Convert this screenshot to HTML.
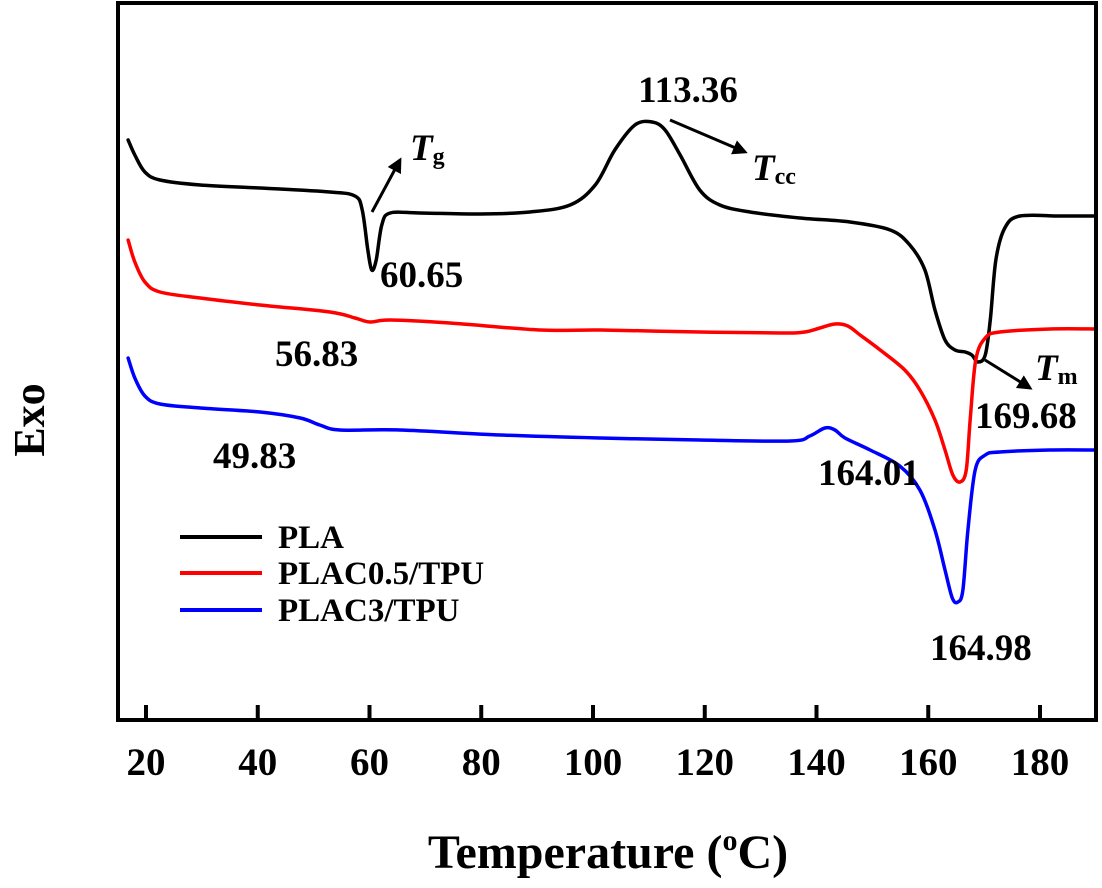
<!DOCTYPE html>
<html><head><meta charset="utf-8"><style>
body{margin:0;background:#fff}
svg{display:block;font-family:"Liberation Serif",serif;font-weight:bold}
</style></head><body>
<svg id="c" width="1102" height="888" xmlns="http://www.w3.org/2000/svg">
<g id="plot"></g>
</svg>
<script>
const xTicks=[20,40,60,80,100,120,140,160,180];
const plaT=[16.8,18.0,19.8,22.5,29.7,40.4,52.9,57.4,58.7,59.7,60.4,61.2,62.2,63.7,69.0,79.8,88.7,95.9,100.4,103.9,107.5,110.6,112.9,115.6,119.1,122.7,128.1,137.0,146.0,153.2,156.7,159.4,161.2,163.0,164.8,166.6,167.8,168.9,170.2,171.1,172.1,173.7,176.4,183.6,190];
const plaV=[580,565,548,540,535,532,528,524,510,470,450,460,495,507,507,506,508,515,535,570,595,598,590,565,530,515,508,502,498,490,475,450,410,380,370,368,365,358,365,400,460,492,504,504,504];
const c05T=[16.8,18.0,19.8,22.5,29.7,40.4,52.9,57.4,60.1,63.7,74.4,90.5,101.3,119.1,133.5,137.9,140.6,143.3,145.6,147.8,151.4,155.8,158.5,161.2,163.0,164.4,165.7,166.8,167.5,168.5,170.2,172.8,181.8,190];
const c05V=[480,458,438,428,422,415,408,402,398,400,397,390,390,388,387,388,392,396,394,385,370,350,330,300,270,245,238,250,300,360,382,388,391,391];
const c3T=[16.8,18.0,19.8,22.5,29.7,40.4,47.6,51.1,54.7,65.5,83.4,101.3,119.1,135.3,138.8,141.5,143.3,145.1,149.6,154.9,158.5,161.2,163.0,164.3,165.3,166.2,167.1,168.4,170.2,172.8,181.8,190];
const c3V=[362,342,324,316,312,308,302,295,290,290,285,282,280,279,284,292,290,282,270,254,230,190,150,122,118,130,190,250,265,268,270,270];
const X=t=>146+(t-20)*5.5875, Y=v=>720-v;
const g=document.getElementById('plot');
const NS='http://www.w3.org/2000/svg';
function el(tag,attrs,txt){const e=document.createElementNS(NS,tag);for(const k in attrs)e.setAttribute(k,attrs[k]);if(txt!==undefined)e.textContent=txt;g.appendChild(e);return e;}
function smooth(T,V){
  const p=T.map((t,i)=>[X(t),Y(V[i])]);
  let d='M'+p[0][0]+','+p[0][1];
  for(let i=0;i<p.length-1;i++){
    const p0=p[Math.max(0,i-1)],p1=p[i],p2=p[i+1],p3=p[Math.min(p.length-1,i+2)];
    const k=1/6;
    d+=' C'+(p1[0]+(p2[0]-p0[0])*k)+','+(p1[1]+(p2[1]-p0[1])*k)+' '+(p2[0]-(p3[0]-p1[0])*k)+','+(p2[1]-(p3[1]-p1[1])*k)+' '+p2[0]+','+p2[1];
  }
  return d;
}
function series(T,V,col,name){
  const e=el('path',{d:smooth(T,V),fill:'none',stroke:col,'stroke-width':3.5,'stroke-linejoin':'round','stroke-linecap':'round'});
  
  
}
series(plaT,plaV,'#000','pla-curve');
series(c05T,c05V,'#f00','plac05-tpu-curve');
series(c3T,c3V,'#00f','plac3-tpu-curve');
const frame=el('path',{d:'M118,3 L118,720 L1096,720 L1096,3 Z',fill:'none',stroke:'#000','stroke-width':4});


xTicks.forEach(t=>{
  const tk=el('line',{x1:X(t),x2:X(t),y1:720,y2:705,stroke:'#000','stroke-width':4});
  
  
  const lb=el('text',{x:X(t),y:775,'text-anchor':'middle','font-size':39},String(t));
  
  
});
</script>
<div style="position:absolute;left:0;top:0">
<svg width="1102" height="888" style="font-family:'Liberation Serif',serif;font-weight:bold">
<defs><marker id="ah2" viewBox="0 0 10 10" refX="8" refY="5" markerWidth="5" markerHeight="5" orient="auto"><path d="M0,0L10,5L0,10z" fill="#000"/></marker></defs>
<g font-size="37">
<text x="688" y="102" text-anchor="middle">113.36</text>
<line x1="670" y1="120" x2="745" y2="152" stroke="#000" stroke-width="3" marker-end="url(#ah2)"/>
<text x="752" y="180" font-style="italic">T<tspan font-size="24" font-style="normal" dy="4">cc</tspan></text>
<line x1="372" y1="212" x2="400" y2="160" stroke="#000" stroke-width="3" marker-end="url(#ah2)"/>
<text x="410" y="160" font-style="italic">T<tspan font-size="24" font-style="normal" dy="4">g</tspan></text>
<text x="380" y="287">60.65</text>
<text x="275" y="366">56.83</text>
<text x="213" y="468">49.83</text>
<line x1="985" y1="360" x2="1030" y2="388" stroke="#000" stroke-width="3" marker-end="url(#ah2)"/>
<text x="1035" y="380" font-style="italic">T<tspan font-size="24" font-style="normal" dy="4">m</tspan></text>
<text x="975" y="428">169.68</text>
<text x="818" y="485">164.01</text>
<text x="930" y="660">164.98</text>
</g>
<g font-size="33">
<line x1="180" y1="537" x2="262" y2="537" stroke="#000" stroke-width="4"/>
<text x="278" y="548">PLA</text>
<line x1="180" y1="573" x2="262" y2="573" stroke="#f00" stroke-width="4"/>
<text x="278" y="584">PLAC0.5/TPU</text>
<line x1="180" y1="610" x2="262" y2="610" stroke="#00f" stroke-width="4"/>
<text x="278" y="621">PLAC3/TPU</text>
</g>
<text x="608" y="868" text-anchor="middle" font-size="48">Temperature (<tspan font-size="30" dy="-18">o</tspan><tspan dy="18">C)</tspan></text>
<text transform="translate(44,420) rotate(-90)" text-anchor="middle" font-size="44">Exo</text>
</svg>
</div>
</body></html>
